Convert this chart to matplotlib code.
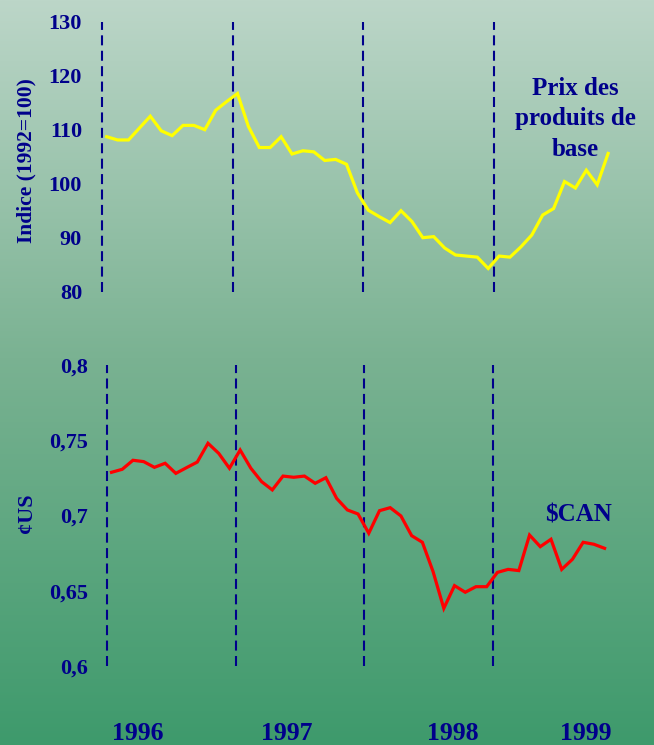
import numpy as np
import matplotlib
matplotlib.use("Agg")
import matplotlib.pyplot as plt
from matplotlib.colors import LinearSegmentedColormap

# ---------------- data ----------------
months = list(range(47))  # Jan 1996 .. Nov 1999 (monthly index)
commodity_index = [108.7, 108.1, 108.1, 110.3, 112.5, 109.8, 108.9, 110.8, 110.8, 110.0,
                   113.6, 115.2, 116.7, 110.6, 106.7, 106.7, 108.7, 105.5, 106.1, 105.9,
                   104.3, 104.5, 103.6, 98.3, 95.1, 93.9, 92.8, 95.0, 93.0, 90.0,
                   90.2, 88.1, 86.8, 86.6, 86.4, 84.3, 86.6, 86.4, 88.3, 90.5,
                   94.2, 95.4, 100.4, 99.2, 102.5, 99.8, 105.6]
cad_usd = [0.7287, 0.7307, 0.7367, 0.7358, 0.7320, 0.7347, 0.7280, 0.7318, 0.7355, 0.7480,
           0.7413, 0.7314, 0.7435, 0.7314, 0.7225, 0.7170, 0.7262, 0.7254, 0.7262, 0.7214,
           0.7251, 0.7114, 0.7037, 0.7010, 0.6882, 0.7032, 0.7052, 0.6997, 0.6866, 0.6822,
           0.6627, 0.6383, 0.6534, 0.6490, 0.6527, 0.6527, 0.6622, 0.6642, 0.6634, 0.6870,
           0.6793, 0.6842, 0.6642, 0.6709, 0.6822, 0.6809, 0.6782]
year_breaks = [-0.45, 11.6, 23.55, 35.55]
top_ticks = [80, 90, 100, 110, 120, 130]
top_labels = ["80", "90", "100", "110", "120", "130"]
bot_ticks = [0.6, 0.65, 0.7, 0.75, 0.8]
bot_labels = ["0,6", "0,65", "0,7", "0,75", "0,8"]
year_labels = ["1996", "1997", "1998", "1999"]

NAVY = "#00008b"
SERIF = ["Liberation Serif", "DejaVu Serif"]

W, H = 654, 745
fig = plt.figure(figsize=(W / 100, H / 100), dpi=100)

# background gradient
bg = fig.add_axes([0, 0, 1, 1], zorder=0)
cmap = LinearSegmentedColormap.from_list(
    "bg", [(0.0, (188/255, 214/255, 200/255)),
           (0.48, (122/255, 178/255, 146/255)),
           (1.0, (62/255, 154/255, 108/255))])
grad = np.linspace(0, 1, 256).reshape(-1, 1)
bg.imshow(grad, aspect="auto", cmap=cmap, extent=[0, 1, 0, 1], origin="upper")
bg.axis("off")


def px_axes(left, right, top, bottom):
    return [left / W, 1 - bottom / H, (right - left) / W, (bottom - top) / H]


def style_axis(ax, ticks, labels, pad):
    ax.set_facecolor("none")
    ax.set_xticks([])
    ax.set_yticks(ticks)
    ax.set_yticklabels(labels)
    ax.tick_params(axis="y", length=0, pad=pad, labelsize=16, labelcolor=NAVY)
    for lab in ax.get_yticklabels():
        lab.set_fontfamily(SERIF)
        lab.set_fontweight("bold")
    for s in ax.spines.values():
        s.set_visible(False)


# ---------------- top panel ----------------
ax1 = fig.add_axes(px_axes(95.8, 619.0, 21.7, 291.7), zorder=1)
ax1.plot(months, commodity_index, color="#ffff00", lw=2.3, solid_joinstyle="miter", zorder=3)
ax1.vlines(year_breaks, 80, 130.5, colors=NAVY, lw=1.5, linestyles=(0, (4.8, 2.6)), zorder=2)
ax1.set_xlim(-1, 47)
ax1.set_ylim(80, 130)
style_axis(ax1, top_ticks, top_labels, 9.9)

# ---------------- bottom panel ----------------
ax2 = fig.add_axes(px_axes(100.8, 615.3, 365.0, 666.0), zorder=1)
ax2.plot(months, cad_usd, color="#ff0000", lw=2.3, solid_joinstyle="miter", zorder=3)
ax2.vlines(year_breaks, 0.6, 0.8024, colors=NAVY, lw=1.5, linestyles=(0, (4.8, 2.6)), zorder=2)
ax2.set_xlim(-1, 47)
ax2.set_ylim(0.6, 0.8)
style_axis(ax2, bot_ticks, bot_labels, 9.2)

# ---------------- texts ----------------
txt = dict(color=NAVY, fontfamily=SERIF, fontweight="bold")
fig.text(26 / W, 1 - 161 / H, "Indice (1992=100)", rotation=90, ha="center", va="center",
         fontsize=15.5, **txt)
fig.text(27 / W, 1 - 513 / H, "¢US", rotation=90, ha="center", va="center",
         fontsize=16, **txt)

for line, base_y in zip(["Prix des", "produits de", "base"], [95, 125.5, 156]):
    fig.text(575 / W, 1 - base_y / H, line, ha="center", va="baseline", fontsize=18, **txt)
fig.text(578 / W, 1 - 521.7 / H, "$CAN", ha="center", va="baseline", fontsize=18, **txt)

for lab, xc in zip(year_labels, [138, 287, 453, 586]):
    fig.text(xc / W, 1 - 739.5 / H, lab, ha="center", va="baseline", fontsize=18.5, **txt)

fig.savefig("out.png", dpi=100)
